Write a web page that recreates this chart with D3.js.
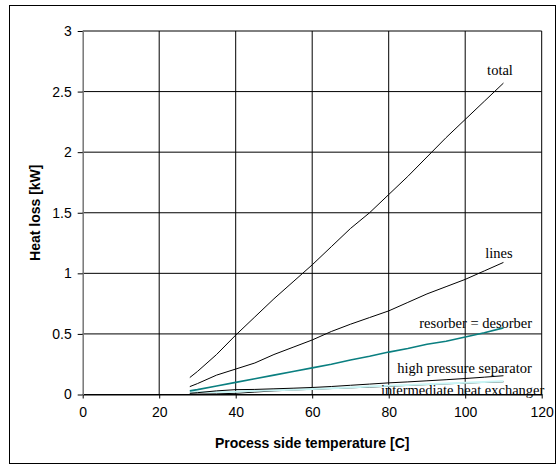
<!DOCTYPE html>
<html>
<head>
<meta charset="utf-8">
<script src="https://cdn.jsdelivr.net/npm/d3@7"></script>
<style>
  body { margin: 0; background: #fff; }
  svg { display: block; }
  .tick text { font-family: "Liberation Sans", Arial, sans-serif; font-size: 14px; fill: #000; }
  .lbl { font-family: "Liberation Serif", "Times New Roman", serif; font-size: 14.5px; fill: #000; }
  .axis-title { font-family: "Liberation Sans", Arial, sans-serif; font-size: 14px; font-weight: bold; }
</style>
</head>
<body>
<svg id="chart"></svg>
<script>
// temperatures (process side, C)
var temps = [28, 30, 35, 40, 45, 50, 55, 60, 65, 70, 75, 80, 85, 90, 95, 100, 105, 110];

// heat loss per component [kW]
var total    = [0.14, 0.19, 0.33, 0.49, 0.64, 0.79, 0.93, 1.07, 1.22, 1.37, 1.50, 1.65, 1.80, 1.96, 2.12, 2.27, 2.42, 2.57];
var lines    = [0.065, 0.09, 0.16, 0.21, 0.26, 0.33, 0.39, 0.45, 0.52, 0.58, 0.635, 0.69, 0.76, 0.83, 0.89, 0.95, 1.02, 1.09];
var resorber = [0.03, 0.04, 0.07, 0.10, 0.13, 0.16, 0.19, 0.22, 0.25, 0.285, 0.315, 0.35, 0.38, 0.415, 0.44, 0.475, 0.51, 0.55];
var hpSep    = [0.01, 0.015, 0.03, 0.04, 0.042, 0.047, 0.052, 0.058, 0.066, 0.076, 0.086, 0.096, 0.104, 0.113, 0.122, 0.132, 0.143, 0.155];
var other    = [0.02, 0.02, 0.02, 0.022, 0.03, 0.035, 0.04, 0.045, 0.052, 0.058, 0.065, 0.072, 0.078, 0.085, 0.091, 0.097, 0.103, 0.11];
var ihx      = [0.003, 0.003, 0.005, 0.01, 0.02, 0.03, 0.037, 0.043, 0.049, 0.055, 0.061, 0.068, 0.075, 0.082, 0.088, 0.094, 0.1, 0.105];

var xTicks = [0, 20, 40, 60, 80, 100, 120];
var yTicks = [0, 0.5, 1, 1.5, 2, 2.5, 3];

var series = [
    {name: "ihx", values: ihx, color: "#000", width: 1},
    {name: "other", values: other, color: "#c8f4f4", width: 2},
    {name: "hpSep", values: hpSep, color: "#000", width: 1},
    {name: "resorber", values: resorber, color: "#0a7f80", width: 1.6},
    {name: "lines", values: lines, color: "#000", width: 1},
    {name: "total", values: total, color: "#000", width: 1}
];

// curve labels: text, data position, anchor
var labels = [
    {text: "total", x: 109.1, y: 2.64, anchor: "middle"},
    {text: "lines", x: 108.8, y: 1.13, anchor: "middle"},
    {text: "resorber = desorber", x: 117.5, y: 0.548, anchor: "end"},
    {text: "high pressure separator", x: 117.4, y: 0.18, anchor: "end"},
    {text: "intermediate heat exchanger", x: 120.7, y: 0.0, anchor: "end"}
];

var W = 558, H = 468;
var margin = {top: 31, left: 82.7, right: 16.3, bottom: 73.5};
var width = W - margin.left - margin.right,
    height = H - margin.top - margin.bottom;

var svg = d3.select("#chart").attr("width", W).attr("height", H);

// outer frame
svg.append("rect")
    .attr("x", 9.5).attr("y", 5.5)
    .attr("width", 546).attr("height", 458)
    .attr("fill", "none").attr("stroke", "#000").attr("stroke-width", 1);

var g = svg.append("g")
    .attr("transform", "translate(" + margin.left + "," + margin.top + ")");

var x = d3.scaleLinear().domain([0, 120]).range([0, width]);
var y = d3.scaleLinear().domain([0, 3]).range([height, 0]);

// grid
g.append("g").selectAll("line").data(yTicks).enter().append("line")
    .attr("x1", 0).attr("x2", width)
    .attr("y1", function (d) { return y(d); }).attr("y2", function (d) { return y(d); })
    .attr("stroke", "#000").attr("stroke-width", 1);
g.append("g").selectAll("line").data(xTicks.slice(1)).enter().append("line")
    .attr("y1", 0).attr("y2", height)
    .attr("x1", function (d) { return x(d); }).attr("x2", function (d) { return x(d); })
    .attr("stroke", "#000").attr("stroke-width", 1);

// axes
var xAxis = g.append("g")
    .attr("transform", "translate(0," + height + ")")
    .call(d3.axisBottom(x).tickValues(xTicks).tickSize(4).tickPadding(9).tickSizeOuter(0));
var yAxis = g.append("g")
    .call(d3.axisLeft(y).tickValues(yTicks).tickSize(5).tickPadding(6).tickSizeOuter(0)
        .tickFormat(function (d) { return String(d); }));
xAxis.select(".domain").attr("stroke", "#000");
yAxis.select(".domain").attr("stroke", "#777").attr("stroke-width", 1.5);
xAxis.selectAll(".tick line").attr("stroke", "#000");
yAxis.selectAll(".tick line").attr("stroke", "#000");

// series lines
var line = d3.line()
    .x(function (d, i) { return x(temps[i]); })
    .y(function (d) { return y(d); });

g.append("g").selectAll("path").data(series).enter().append("path")
    .attr("d", function (d) { return line(d.values); })
    .attr("fill", "none")
    .attr("stroke", function (d) { return d.color; })
    .attr("stroke-width", function (d) { return d.width; });

// labels
g.append("g").selectAll("text").data(labels).enter().append("text")
    .attr("class", "lbl")
    .attr("x", function (d) { return x(d.x); })
    .attr("y", function (d) { return y(d.y); })
    .attr("text-anchor", function (d) { return d.anchor; })
    .text(function (d) { return d.text; });

// axis titles
svg.append("text")
    .attr("class", "axis-title")
    .attr("x", margin.left + width / 2)
    .attr("y", 448)
    .attr("text-anchor", "middle")
    .text("Process side temperature [C]");

svg.append("text")
    .attr("class", "axis-title")
    .attr("transform", "translate(40," + (margin.top + height / 2) + ") rotate(-90)")
    .attr("text-anchor", "middle")
    .text("Heat loss [kW]");
</script>
</body>
</html>
